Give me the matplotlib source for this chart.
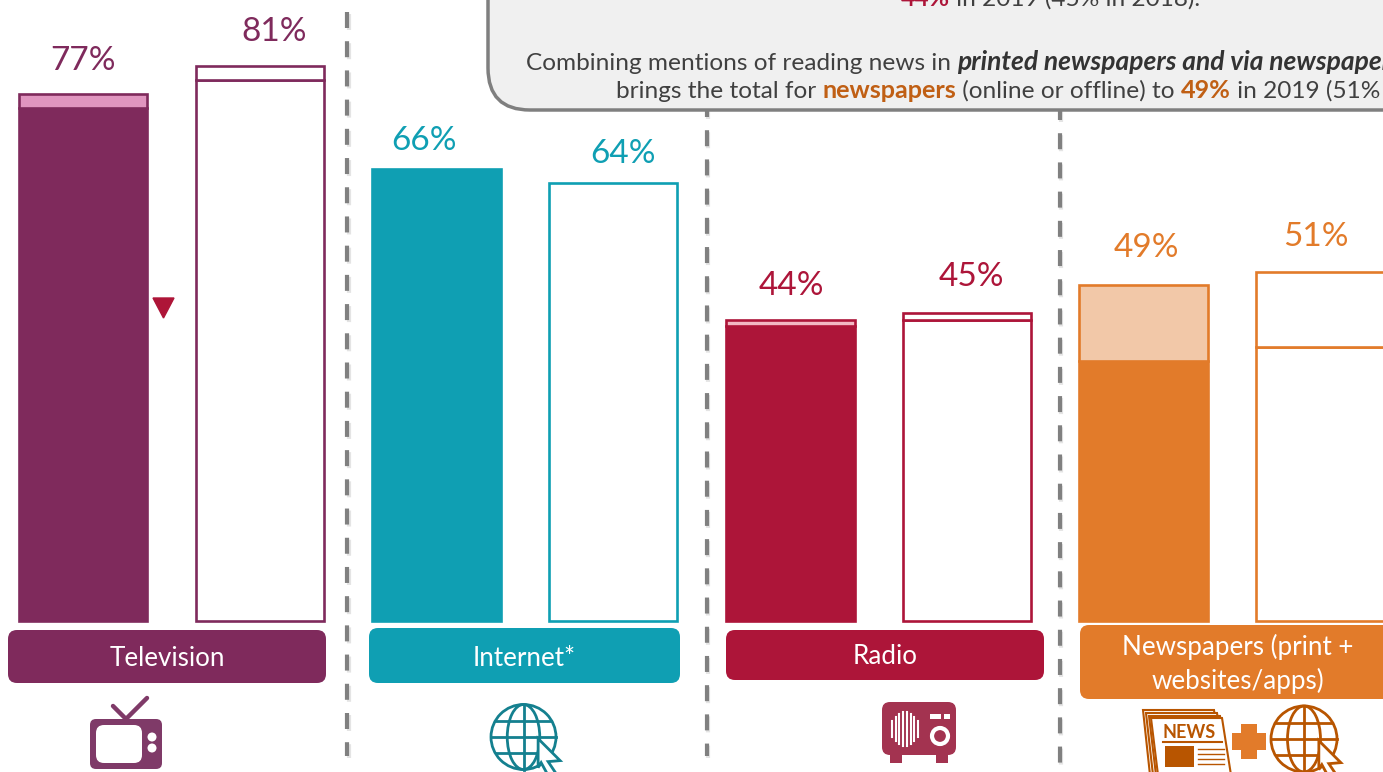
import matplotlib
matplotlib.use('Agg')
import matplotlib.pyplot as plt
from matplotlib.patches import FancyBboxPatch, Rectangle, Circle, Ellipse, Polygon

plt.rcParams['font.family'] = ['Lato', 'DejaVu Sans']

categories = ['Television', 'Internet*', 'Radio', 'Newspapers (print +\nwebsites/apps)']
totals_2019 = [77, 66, 44, 49]
totals_2018 = [81, 64, 45, 51]
lower_2019 = [75, 66, 43, 38]
lower_2018 = [79, 64, 44, 40]

colors = ['#7f2a5c', '#0f9fb3', '#ad1539', '#e27b2a']
light = ['#e095bf', '#0f9fb3', '#f2b8c4', '#f2c8a8']

W, H = 1383, 772
fig = plt.figure(figsize=(W / 100, H / 100), dpi=100)
fig.patch.set_facecolor('white')

# overlay in pixel coordinates for the decoration
deco = fig.add_axes([0, 0, 1, 1])
deco.set_xlim(0, W)
deco.set_ylim(H, 0)
deco.axis('off')

# bars: y in percent, 6.84 px per point, baseline at y=620.5 px
ax = fig.add_axes([0, 0, 1, 1], sharex=deco)
ax.set_ylim(-(H - 620.5) / 6.84, 620.5 / 6.84)
ax.axis('off')
ax.patch.set_alpha(0)

x_2019 = [82.8, 436.8, 790.3, 1143.8]
x_2018 = [259.8, 613.3, 967.3, 1321.3]
widths_2019 = [128, 129, 129, 129]
widths_2018 = [128, 128, 128, 130]
offs_2019 = [(0, 33), (-13, 28), (1, 34), (3, 37)]
offs_2018 = [(14, 34), (10, 29), (4, 36), (-5, 35)]
EDGE = 1.9

for i in range(4):
    c = colors[i]
    ax.bar(x_2019[i], lower_2019[i], widths_2019[i], color=c, edgecolor=c, linewidth=EDGE)
    rest = totals_2019[i] - lower_2019[i]
    if rest > 0:
        ax.bar(x_2019[i], rest, widths_2019[i], bottom=lower_2019[i], color=light[i], edgecolor=c, linewidth=EDGE)
    ax.bar(x_2018[i], lower_2018[i], widths_2018[i], color='white', edgecolor=c, linewidth=EDGE)
    rest = totals_2018[i] - lower_2018[i]
    if rest > 0:
        ax.bar(x_2018[i], rest, widths_2018[i], bottom=lower_2018[i], color='white', edgecolor=c, linewidth=EDGE)
    ax.annotate(f'{totals_2019[i]}%', (x_2019[i], totals_2019[i]), xytext=offs_2019[i], textcoords='offset pixels',
                ha='center', va='center', fontsize=24, color=c)
    ax.annotate(f'{totals_2018[i]}%', (x_2018[i], totals_2018[i]), xytext=offs_2018[i], textcoords='offset pixels',
                ha='center', va='center', fontsize=24, color=c)

# down arrow next to television
deco.add_patch(Polygon([(153, 298), (174, 298), (163.5, 318)], color='#ae1538', zorder=5))

# dashed separators, with a faint shadow
DASH = (3.84, 3.17)
for sx, y0, y1 in [(347, 12, 756), (706.5, 101.4, 756), (1059.5, 104, 764)]:
    deco.plot([sx + 1.5, sx + 1.5], [y0 + 2, y1 + 2], color='#e4e4e4', lw=3, ls=(0, DASH), zorder=1)
    deco.plot([sx, sx], [y0, y1], color='#808080', lw=3, ls=(0, DASH), zorder=1)

# category boxes
boxes = [(8, 630, 318, 53), (369, 628, 311, 55), (726, 630, 318, 50), (1080, 625, 330, 74)]
for (bx, by, bw, bh), c in zip(boxes, colors):
    deco.add_patch(FancyBboxPatch((bx + 9, by + 9), bw - 18, bh - 18, boxstyle='round,pad=9,rounding_size=9',
                                  fc=c, ec='none', zorder=2))
cx = [167, 524, 885, 1238]
cy = [659, 659, 657, 664]
for name, x, y in zip(categories, cx, cy):
    deco.text(x, y, name, color='white', fontsize=18.7, ha='center', va='center', linespacing=1.4, zorder=3)

# callout box
deco.add_patch(FancyBboxPatch((530, -60), 1000, 128, boxstyle='round,pad=42,rounding_size=42',
                              fc='#f0f0f0', ec='#7f7f7f', lw=2.5, zorder=4))

def run_text(x, y, pieces):
    # pieces placed one after the other on the same baseline
    r = fig.canvas.get_renderer()
    for s, col, weight, style, size in pieces:
        t = deco.text(x, y, s, color=col, fontsize=size, fontweight=weight, fontstyle=style,
                      va='baseline', ha='left', zorder=5)
        x += t.get_window_extent(r).width

grey = '#404040'
red = '#ad1539'
org = '#c05f14'
run_text(901, 6, [('44%', red, 'bold', 'normal', 17.8), (' in 2019 (45% in 2018).', grey, 'normal', 'normal', 17.6)])
run_text(526, 70, [('Combining mentions of reading news in ', grey, 'normal', 'normal', 17.6),
                   ('printed newspapers and via newspaper websites/apps', '#333333', 'bold', 'italic', 19)])
run_text(616, 98, [('brings the total for ', grey, 'normal', 'normal', 17.6), ('newspapers', org, 'bold', 'normal', 18.2),
                   (' (online or offline) to ', grey, 'normal', 'normal', 17.6), ('49%', org, 'bold', 'normal', 18.2),
                   (' in 2019 (51% in 2018).', grey, 'normal', 'normal', 17.6)])

# television icon
tv = '#7f3a68'
deco.add_patch(FancyBboxPatch((94, 723), 64, 42, boxstyle='round,pad=4,rounding_size=6', fc=tv, ec='none'))
deco.add_patch(FancyBboxPatch((102, 731), 34, 26, boxstyle='round,pad=6,rounding_size=8', fc='white', ec='none'))
deco.plot([113, 126, 147], [706, 719, 698], color=tv, lw=3.2, solid_capstyle='round')
deco.add_patch(Ellipse((152, 737), 9, 9, fc='white', ec='none'))
deco.add_patch(Ellipse((152, 748), 9, 9, fc='white', ec='none'))

def globe(x, y, r, col, lw=2):
    deco.add_patch(Circle((x, y), r, fc='white', ec=col, lw=lw, zorder=3))
    deco.add_patch(Ellipse((x, y), r, 2 * r, fc='none', ec=col, lw=lw, zorder=3))
    deco.plot([x, x], [y - r, y + r], color=col, lw=lw, zorder=3)
    for dy, half in [(-0.48, 0.86), (0, 1), (0.48, 0.86)]:
        deco.plot([x - half * r, x + half * r], [y + dy * r, y + dy * r], color=col, lw=lw, zorder=3)
    # cursor
    tx, ty = x + 0.45 * r, y + 0.05 * r
    deco.add_patch(Polygon([(tx, ty), (tx + 22, ty + 22), (tx + 10, ty + 23), (tx + 18, ty + 35), (tx + 9, ty + 35),
                            (tx + 3, ty + 24), (tx, ty + 29)], fc='white', ec=col, lw=lw, zorder=4))

globe(523.5, 737, 32.5, '#14808f')

# radio icon
rad = '#a33350'
deco.add_patch(FancyBboxPatch((890, 710), 58, 37, boxstyle='round,pad=8,rounding_size=8', fc=rad, ec='none'))
deco.add_patch(Rectangle((890, 755), 12, 8, fc=rad, ec='none'))
deco.add_patch(Rectangle((936, 755), 12, 8, fc=rad, ec='none'))
bar_h = [16, 24, 30, 34, 34, 30, 24, 16]
for k, h in enumerate(bar_h):
    xk = 892 + k * 3.7
    deco.plot([xk, xk], [729 - h / 2, 729 + h / 2], color='white', lw=1.5)
deco.add_patch(Rectangle((930, 714), 11, 5, fc='white', ec='none'))
deco.add_patch(Rectangle((944, 714), 6, 5, fc='white', ec='none'))
deco.add_patch(Circle((940, 736), 8, fc='none', ec='white', lw=3))

# newspaper + globe icon
nw = '#b85500'
for off in [-8, -5, -2, 0]:
    deco.add_patch(Polygon([(1151 + off, 718 + off), (1222 + off, 718 + off), (1231 + off, 775),
                            (1158 + off, 775)], fc='white', ec=nw, lw=1.5, zorder=2))
deco.text(1189, 732, 'NEWS', color=nw, fontsize=13, fontweight='bold', ha='center', va='center', zorder=3)
deco.plot([1163, 1222], [742, 742], color=nw, lw=1.5, zorder=3)
deco.add_patch(Rectangle((1165, 746), 29, 21, fc=nw, ec='none', zorder=3))
for yy in [749, 754, 759, 764]:
    deco.plot([1198, 1224], [yy, yy], color=nw, lw=1, zorder=3)
deco.add_patch(Rectangle((1241, 724), 16, 35, fc='#e27b2a', ec='none'))
deco.add_patch(Rectangle((1232, 733), 34, 17, fc='#e27b2a', ec='none'))
globe(1304, 739, 33, nw)

deco.set_zorder(0)
ax.set_zorder(1)

fig.savefig('out.png', dpi=100)
